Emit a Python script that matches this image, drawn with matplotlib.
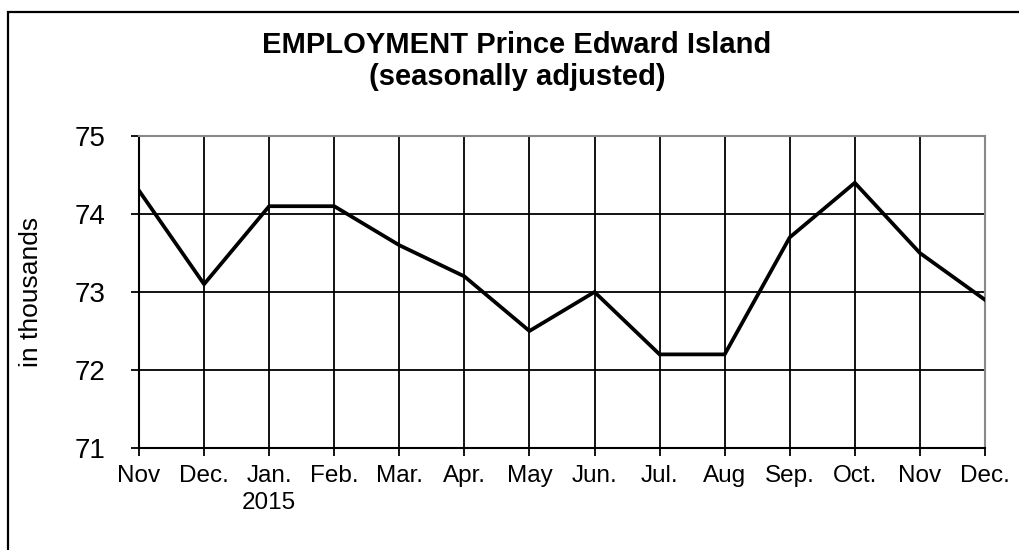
import matplotlib
matplotlib.use("Agg")
import matplotlib.pyplot as plt
from matplotlib.patches import Rectangle

months = ['Nov', 'Dec.', 'Jan.\n2015', 'Feb.', 'Mar.', 'Apr.', 'May', 'Jun.',
          'Jul.', 'Aug', 'Sep.', 'Oct.', 'Nov', 'Dec.']
employment = [74.3, 73.1, 74.1, 74.1, 73.6, 73.2, 72.5, 73.0,
              72.2, 72.2, 73.7, 74.4, 73.5, 72.9]
y_ticks = [71, 72, 73, 74, 75]

plt.rcParams['font.family'] = ['Liberation Sans', 'DejaVu Sans']

fig = plt.figure(figsize=(10.19, 5.5), dpi=100)
ax = fig.add_axes([0.1364, 0.1855, 0.8302, 0.5672])

# rahmen um die ganze grafik (rechts und unten abgeschnitten)
fig.patches.append(Rectangle((8 / 1019, -0.1), 1.2, 1 - 12 / 550 + 0.1,
                             transform=fig.transFigure, fill=False,
                             edgecolor='black', linewidth=1.6))

x = list(range(len(months)))
ax.plot(x, employment, color='black', linewidth=2.7, solid_joinstyle='miter', zorder=3)

ax.set_xlim(0, len(months) - 1)
ax.set_ylim(71, 75)
ax.set_xticks(x)
ax.set_xticklabels(months, fontsize=17.5, linespacing=1.3)
ax.set_yticks(y_ticks)
ax.set_yticklabels([str(v) for v in y_ticks], fontsize=20)
ax.tick_params(axis='x', direction='out', length=6, width=1.3, color='black', pad=6)
ax.tick_params(axis='y', direction='out', length=6, width=1.3, color='black', pad=18)
ax.grid(True, color='black', linewidth=1.3)
ax.set_axisbelow(True)

for s in ['left', 'bottom']:
    ax.spines[s].set_color('black')
    ax.spines[s].set_linewidth(1.5)
for s in ['top', 'right']:
    ax.spines[s].set_color('#888888')
    ax.spines[s].set_linewidth(1.5)

ax.set_ylabel('in thousands', fontsize=19)
ax.yaxis.set_label_coords(-0.113, 0.5)

fig.text(517 / 1019, 1 - 61 / 550, 'EMPLOYMENT Prince Edward Island\n(seasonally adjusted)',
         ha='center', va='center', fontsize=21, fontweight='bold', linespacing=1.18)

fig.savefig('out.png', dpi=100)
